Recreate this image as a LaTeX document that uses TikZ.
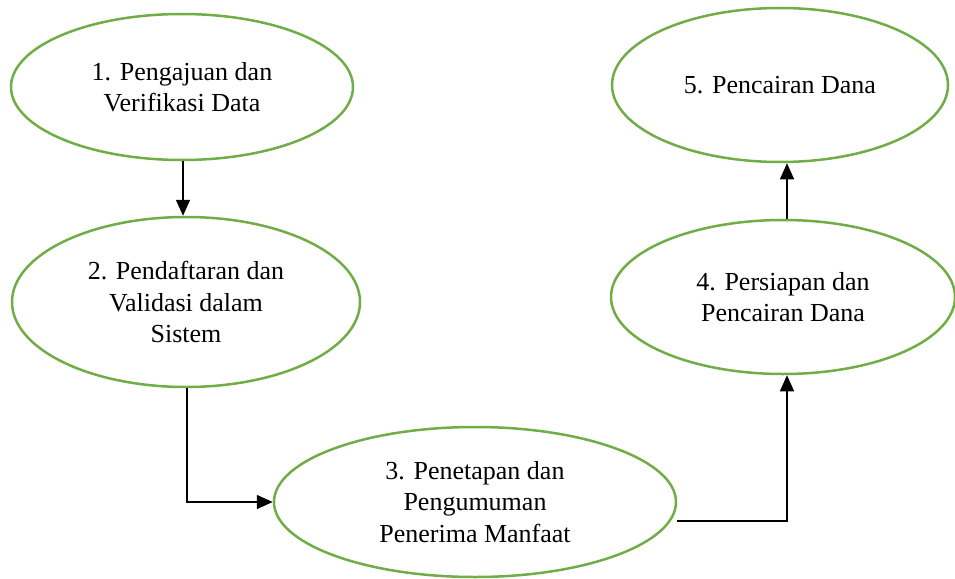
\documentclass[tikz,border=0pt]{standalone}
\usepackage{fontspec}
\setmainfont{Liberation Serif}
\usetikzlibrary{shapes.geometric,arrows.meta}
\definecolor{stepgreen}{RGB}{112,173,71}
\tikzset{
  stepnode/.style={ellipse, draw=stepgreen, line width=2.5pt, inner sep=0pt,
    align=center, font=\fontsize{26}{31.5}\selectfont},
  flow/.style={line width=1.5pt, -{Triangle[width=14pt,length=16pt]}}
}
\begin{document}
\begin{tikzpicture}[x=1pt,y=1pt]
        \useasboundingbox (0,0) rectangle (955,-578);
        %left column
        \node [stepnode, minimum width=342pt, minimum height=146pt] (pengajuan) at (182,-87) {1. Pengajuan dan\\Verifikasi Data};
        \node [stepnode, minimum width=348pt, minimum height=170pt] (pendaftaran) at (186,-302) {2. Pendaftaran dan\\Validasi dalam\\Sistem};
        %bottom
        \node [stepnode, minimum width=402pt, minimum height=150pt] (penetapan) at (475,-502) {3. Penetapan dan\\Pengumuman\\Penerima Manfaat};
        %right column
        \node [stepnode, minimum width=344pt, minimum height=154pt] (persiapan) at (783,-297) {4. Persiapan dan\\Pencairan Dana};
        \node [stepnode, minimum width=336pt, minimum height=154pt] (pencairan) at (780,-85) {5. Pencairan Dana};

        %arrows
        \draw [flow] ([xshift=1pt]pengajuan.south) -- ([xshift=1pt]pengajuan.south |- pendaftaran.north);
        \draw [flow] ([xshift=1pt]pendaftaran.south) |- (penetapan.west);
        \draw [flow] ([yshift=-19pt]penetapan.east) -| ([xshift=4pt]persiapan.south);
        \draw [flow] ([xshift=4pt]persiapan.north) -- ([xshift=4pt]persiapan.north |- pencairan.south);
    \end{tikzpicture}
\end{document}
